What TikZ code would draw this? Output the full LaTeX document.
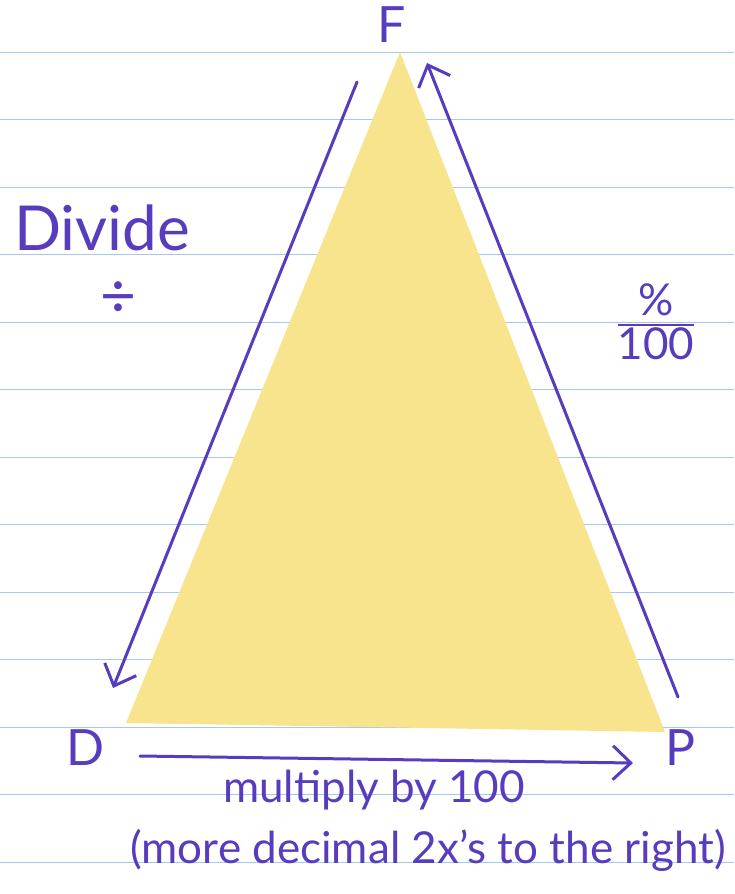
\documentclass[tikz,border=0pt]{standalone}
\usepackage{fontspec}
\setmainfont{Lato}
\usetikzlibrary{arrows.meta}
\definecolor{ink}{RGB}{88,60,190}
\definecolor{ruling}{RGB}{165,200,235}
\definecolor{sticky}{RGB}{248,228,140}

\begin{document}
\begin{tikzpicture}[
  x=1pt, y=-1pt,
  hand/.style={
    text=ink,
    inner sep=0pt,
    align=center
  },
  big/.style={
    hand,
    font=\fontsize{62}{66}\selectfont
  },
  corner/.style={
    hand,
    font=\fontsize{50}{54}\selectfont
  },
  note/.style={
    hand,
    font=\fontsize{44}{48}\selectfont
  },
  arr/.style={
    draw=ink,
    line width=3pt,
    line cap=round,
    -{Straight Barb[length=18pt,width=34pt,line width=3pt]}
  }
]
\useasboundingbox (0,0) rectangle (734,894);
\fill[white] (0,0) rectangle (734,894);

% Notebook rules
\foreach \y in {52,119.5,...,870}
  \draw[ruling, line width=1pt] (0,\y) -- (734,\y);

% Triangle
\coordinate (apex) at (400,52);
\coordinate (lower left) at (126,723);
\coordinate (lower right) at (665,732);
\fill[sticky] (apex) -- (lower left) -- (lower right) -- cycle;

% Corner letters
\node[corner] (F) at (392,25) {F};
\node[corner] (D) at (86,748) {D};
\node[corner] (P) at (681,748) {P};

% Side labels
\node[big] (divide) at (102,228) {Divide};
\node[big] (obelus) at (118,300) {÷};
\node[note] (percent) at (656,328)
  {\setlength\arrayrulewidth{1.8pt}%
   \begin{tabular}{@{}c@{}}\%\\[-6pt]\hline 100\end{tabular}};

% Bottom labels
\node[note] (times) at (374,790) {multiply by 100};
\node[note] (rule) at (428,850) {(more decimal 2x's to the right)};

% Arrow ends
\coordinate (fd start) at (357,82);
\coordinate (fd end) at (113,688);
\coordinate (pf start) at (678,697);
\coordinate (pf end) at (427,63);
\coordinate (dp start) at (140,756);
\coordinate (dp end) at (633,763);

% Arrows
\draw[arr] (fd start) -- (fd end);
\draw[arr] (pf start) -- (pf end);
\draw[arr] (dp start) -- (dp end);

\end{tikzpicture}
\end{document}
